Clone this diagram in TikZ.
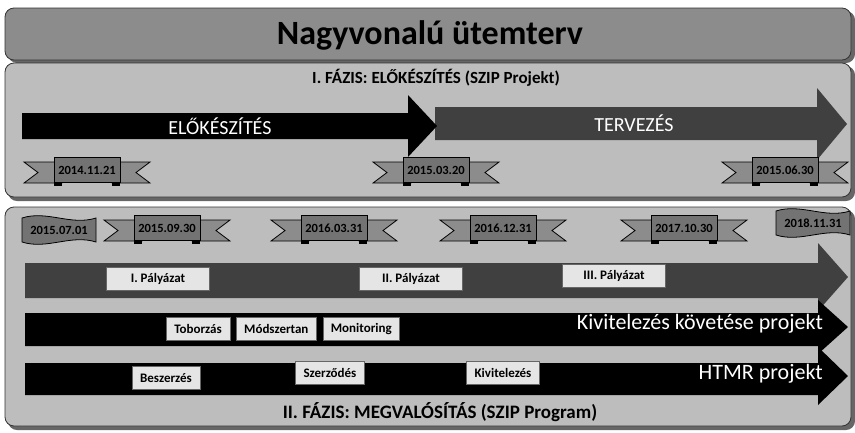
\documentclass[tikz,border=0pt]{standalone}
\usepackage{fontspec}
\setmainfont{Carlito}
\usetikzlibrary{positioning}
\definecolor{panelgray}{gray}{0.74}
\definecolor{titlegray}{gray}{0.55}
\definecolor{ribbongray}{gray}{0.55}
\definecolor{frontgray}{gray}{0.45}
\definecolor{bargray}{gray}{0.25}
\definecolor{taggray}{gray}{0.9}
\newcommand{\ribbon}[4]{% name, x, y, date
  \begin{scope}[shift={(#2,#3)}]
    \draw[tail] (-63,-8) -- (-25,-8) -- (-25,13) -- (-63,13) -- (-49,2.5) -- cycle;
    \draw[tail] (63,-8) -- (25,-8) -- (25,13) -- (63,13) -- (49,2.5) -- cycle;
    \fill (-33,12) rectangle (-25,16);
    \fill (25,12) rectangle (33,16);
  \end{scope}
  \node[front] (#1) at (#2,#3) {#4};
}
\newcommand{\wavyflag}[4]{% name, x, y, date
  \begin{scope}[shift={(#2,#3)}]
    \draw[tail, fill=frontgray] (-37,-12) .. controls (-12,-20) and (12,-4) .. (37,-12)
      -- (37,12) .. controls (12,4) and (-12,20) .. (-37,12) -- cycle;
  \end{scope}
  \node[datetext] (#1) at (#2,#3) {#4};
}
\tikzset{
    panel/.style={draw=black!80, fill=panelgray, line width=0.8pt, rounded corners=9pt},
    tail/.style={draw=black, fill=ribbongray, line width=0.8pt},
    datetext/.style={font=\bfseries\fontsize{12.5}{12.5}\selectfont, inner sep=0pt},
    front/.style={datetext, draw=black, fill=frontgray, line width=0.8pt, minimum width=66pt, minimum height=25pt},
    bartext/.style={text=white, font=\fontsize{20}{20}\selectfont, inner sep=0pt},
    tag/.style={draw=black!60, fill=taggray, font=\bfseries\fontsize{13}{13}\selectfont, minimum height=23pt, inner xsep=8pt},
    phase/.style={font=\bfseries\fontsize{17}{17}\selectfont}
}
\begin{document}
\begin{tikzpicture}[x=1pt, y=-1pt]
\useasboundingbox (0,0) rectangle (855,432);
% panels
\fill[black!60, rounded corners=9pt] (8,11) rectangle (855,63);
\draw[panel, fill=titlegray] (5,8) rectangle (851,60);
\fill[black!60, rounded corners=9pt] (8,66) rectangle (855,201);
\draw[panel] (5,63) rectangle (851,197);
\fill[black!60, rounded corners=9pt] (8,210) rectangle (855,430);
\draw[panel] (5,207) rectangle (851,426);
\node[font=\bfseries\fontsize{34}{34}\selectfont] (title) at (430,35) {Nagyvonalú ütemterv};
\node[phase] (phase1) at (436,78) {I. FÁZIS: ELŐKÉSZÍTÉS (SZIP Projekt)};
\node[phase, font=\bfseries\fontsize{19}{19}\selectfont] (phase2) at (440,412) {II. FÁZIS: MEGVALÓSÍTÁS (SZIP Program)};
% phase 1 arrows
\fill[bargray] (435,107) -- (817,107) -- (817,88) -- (847,124) -- (817,160) -- (817,140) -- (435,140) -- cycle;
\fill[black] (22,113) -- (408,113) -- (408,95) -- (437,126) -- (408,157) -- (408,139) -- (22,139) -- cycle;
\node[bartext] (elok) at (220,126) {ELŐKÉSZÍTÉS};
\node[bartext] (terv) at (634,123) {TERVEZÉS};
% phase 1 milestones
\ribbon{m1}{87}{170}{2014.11.21}
\ribbon{m2}{436}{170}{2015.03.20}
\ribbon{m3}{785}{170}{2015.06.30}
% phase 2 milestones
\wavyflag{n1}{59}{230}{2015.07.01}
\ribbon{n2}{167}{228}{2015.09.30}
\ribbon{n3}{334}{228}{2016.03.31}
\ribbon{n4}{503}{228}{2016.12.31}
\ribbon{n5}{684}{228}{2017.10.30}
\wavyflag{n6}{813}{223}{2018.11.31}
% phase 2 bars
\fill[bargray] (25,263) -- (818,263) -- (818,243) -- (848,277) -- (818,311) -- (818,298) -- (25,298) -- cycle;
\fill[black] (25,313) -- (818,313) -- (818,300) -- (848,327) -- (818,354) -- (818,346) -- (25,346) -- cycle;
\fill[black] (25,363) -- (818,363) -- (818,347) -- (848,376) -- (818,405) -- (818,395) -- (25,395) -- cycle;
% bar labels
\node[tag, minimum width=103pt] (pal1) at (158,279) {I. Pályázat};
\node[tag, minimum width=103pt] (pal2) at (411,279) {II. Pályázat};
\node[tag, minimum width=103pt] (pal3) at (614,276) {III. Pályázat};
\node[tag] (tobor) at (198,329) {Toborzás};
\node[tag, right=6pt of tobor] (modsz) {Módszertan};
\node[tag, right=6pt of modsz] (monit) {Monitoring};
\node[bartext, anchor=east, font=\fontsize{22}{22}\selectfont] (kovet) at (823,324) {Kivitelezés követése projekt};
\node[tag] (besz) at (166,378) {Beszerzés};
\node[tag] (szerz) at (330,373) {Szerződés};
\node[tag] (kivit) at (503,373) {Kivitelezés};
\node[bartext, anchor=east, font=\fontsize{22}{22}\selectfont] (htmr) at (823,374) {HTMR projekt};
\end{tikzpicture}
\end{document}
